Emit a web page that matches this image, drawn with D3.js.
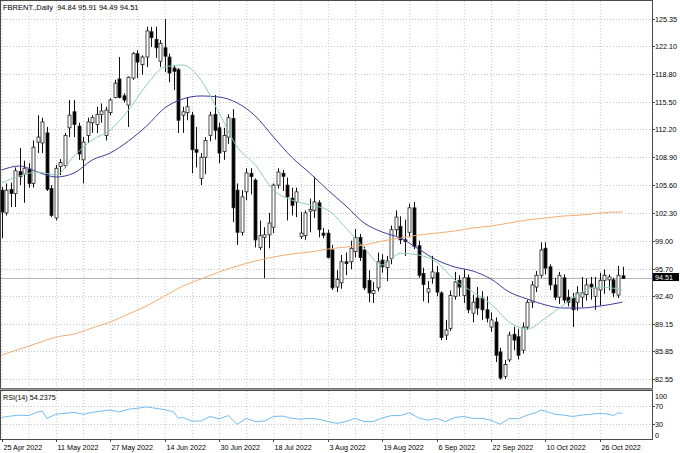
<!DOCTYPE html>
<html><head><meta charset="utf-8">
<script src="https://cdn.jsdelivr.net/npm/d3@7"></script>
<style>
html,body{margin:0;padding:0;background:#fff;}
svg{display:block;}
text{font-family:"Liberation Sans",Arial,sans-serif;fill:#000;}
</style>
</head><body><svg id="c" width="680" height="453"></svg>
<script>
// ---------------- DATA ----------------
const symbolTitle = "FBRENT.,Daily  94.84 95.91 94.49 94.51";
const rsiTitle = "RSI(14) 54.2375";
const lastPrice = 94.51;

const opens = [105.0,102.3,105.1,104.6,107.2,106.9,107.5,105.8,110.7,110.6,111.8,105.2,101.7,107.8,107.9,112.4,114.3,112.6,108.6,111.5,
113.0,112.8,114.0,111.5,114.2,116.0,118.2,116.2,115.1,118.3,121.2,119.9,120.8,123.8,122.9,120.3,121.9,120.8,119.5,119.3,
113.9,114.2,113.9,109.8,106.4,108.9,111.5,114.0,112.4,109.6,111.3,113.5,105.0,100.0,104.8,107.0,106.2,98.2,99.4,99.7,
100.6,105.6,107.0,105.6,104.05,103.6,99.5,99.6,102.5,102.6,103.5,99.9,99.9,97.9,93.5,94.0,96.5,96.5,97.7,99.4,
97.9,94.3,92.75,93.4,96.7,95.8,96.9,100.3,100.7,99.1,100.0,102.9,98.4,95.1,92.9,94.6,95.2,92.8,87.8,88.6,
92.4,94.3,92.5,94.6,90.4,92.2,92.2,90.8,88.75,89.35,85.8,82.9,84.85,87.9,87.6,86.0,88.75,91.7,93.5,94.9,
98.1,95.9,93.75,92.3,94.6,92.3,92.2,91.7,92.3,92.6,93.85,92.4,93.15,94.3,94.35,94.35,92.55,94.84];
const highs = [105.4,105.8,105.9,107.7,110.0,108.5,108.2,110.9,113.9,113.6,112.5,105.6,108.0,108.7,111.8,115.7,115.7,113.0,111.3,113.6,
113.9,114.9,115.3,114.9,115.9,118.1,120.8,116.5,118.5,121.4,121.6,121.0,124.4,124.4,124.4,122.8,125.3,121.2,119.8,119.5,
114.9,116.05,114.3,112.5,109.4,111.3,114.3,116.3,113.0,112.4,114.0,114.6,105.8,105.0,107.6,107.6,106.4,101.4,100.6,102.3,
105.8,107.6,107.4,106.5,105.3,105.3,102.4,102.6,104.0,106.6,103.8,100.5,100.3,98.5,95.5,97.3,97.6,99.0,100.4,99.8,
98.3,95.5,94.1,97.6,97.4,97.2,100.8,102.6,101.9,101.5,103.4,103.6,99.0,95.8,94.2,97.2,96.0,93.0,89.6,93.1,
95.3,94.9,95.6,95.0,92.6,93.5,93.0,92.4,90.5,89.9,86.3,84.85,88.2,88.8,88.5,89.3,92.0,94.2,95.4,98.8,
98.8,96.2,94.6,95.3,95.0,93.2,92.8,93.6,94.7,94.5,94.7,94.7,95.2,95.6,95.0,94.6,96.0,95.91];
const lows = [99.3,102.0,103.0,103.0,105.6,103.5,105.3,105.3,109.4,109.4,104.9,101.8,101.4,106.8,107.6,111.3,111.3,108.6,105.8,110.6,
111.8,111.8,113.0,110.9,113.9,115.9,115.9,115.4,112.5,118.1,118.3,118.7,119.6,122.0,120.7,119.6,119.0,117.8,116.9,111.8,
111.8,113.3,107.0,107.7,105.6,106.9,110.8,111.0,108.2,108.6,110.5,101.2,98.5,99.6,103.8,104.5,98.2,97.9,94.55,98.1,
99.9,105.2,104.9,101.4,102.0,101.8,99.2,99.1,100.0,101.7,99.4,99.3,96.9,93.15,92.9,93.3,94.9,95.6,97.0,96.6,
93.15,91.7,91.6,93.0,95.2,94.2,96.2,99.6,98.6,97.2,99.4,98.0,94.6,91.8,91.6,93.9,92.4,87.2,87.2,88.3,
92.0,92.4,91.6,90.4,89.3,90.2,89.6,89.3,88.2,84.6,82.5,82.6,84.6,86.0,84.9,85.6,88.4,91.0,92.9,94.6,
95.0,93.15,91.95,91.5,91.6,91.2,88.75,90.7,91.1,91.9,92.0,90.8,91.3,92.7,93.1,92.3,92.2,94.49];
const closes = [102.4,105.0,104.6,107.3,106.6,107.6,105.8,110.1,111.3,113.1,105.1,102.0,107.6,108.3,111.5,113.9,112.8,109.3,110.7,113.1,
113.6,114.0,114.4,114.5,115.7,117.7,116.0,115.7,118.4,121.2,120.2,120.8,123.9,123.1,121.9,122.4,120.9,118.9,119.1,113.3,
114.3,114.9,109.8,109.5,108.9,110.9,113.9,112.1,109.4,111.5,113.6,102.9,100.0,104.2,107.05,106.6,99.1,99.6,99.7,101.1,
105.6,107.15,106.65,104.2,103.2,104.8,99.9,102.3,102.7,103.6,100.3,99.65,97.0,93.4,94.4,96.5,96.3,98.1,99.4,97.0,
93.4,92.8,93.1,96.5,95.9,96.6,100.3,101.8,99.1,98.9,102.9,98.3,94.9,93.8,93.3,95.3,92.9,87.5,88.4,92.5,
94.1,93.5,94.6,90.8,91.7,91.0,90.8,89.8,89.6,85.4,82.7,84.3,87.8,87.2,85.4,88.75,91.7,93.75,94.9,97.9,
95.75,93.75,92.3,94.9,91.95,91.7,90.8,92.8,92.8,93.75,93.5,93.4,94.3,94.9,94.7,92.8,94.9,94.51];

// moving averages at these bar numbers
const maBars = [0,4,8,12,16,20,24,28,32,36,40,44,48,52,56,60,64,68,72,76,80,84,88,92,96,100,104,108,112,116,120,124,128,132,136,137];
const maFast = [105.85,106.68,107.15,106.8,109.05,110.95,112.14,114.5,117.48,119.62,119.85,118.07,114.16,110.12,107.98,105.01,103.83,103.24,102.64,100.5,
98.13,96.11,97.5,97.3,96.46,94.34,92.9,91.48,89.35,88.52,89.82,91.37,92.9,93.5,93.27,93.15];
const maMid = [107.39,107.87,107.15,106.56,107.03,108.58,109.41,110.83,112.61,114.75,115.82,116.18,116.06,115.35,113.8,111.31,108.93,107.03,105.01,103.12,
101.1,100.03,99.32,98.02,96.71,95.88,95.4,94.45,92.91,92.08,91.37,91.01,91.01,91.25,91.6,91.72];
const maSlow = [85.42,86.14,86.85,87.56,87.92,88.64,89.35,90.3,91.25,92.44,93.62,94.45,95.28,96.0,96.59,97.06,97.42,97.66,98.01,98.25,
98.49,98.96,99.32,99.67,99.91,100.15,100.5,100.74,101.1,101.46,101.69,101.93,102.05,102.29,102.41,102.41];

const rsiBars = [0,2,4,6,8,9,10,12,14,16,18,20,22,24,26,28,30,32,34,36,38,39,40,42,44,46,48,50,52,54,56,58,60,62,64,66,68,70,72,74,
76,78,80,82,84,86,88,90,92,94,96,98,100,102,104,106,108,110,112,114,116,118,119,120,122,124,126,128,130,132,134,135,136,137];
const rsiValues = [45,48,50,49,57,59,43,52,54,56,52,56,59,61,57,63,65,68,65,62,57,43,45,37,37,47,42,49,30,43,
36,37,47,48,43,41,43,41,36,32,36,43,36,36,44,49,49,55,44,39,43,36,45,47,43,43,39,30,43,42,
50,56,61,59,52,50,47,50,52,54,52,49,55,54.24];

const dateTickLabels = ["25 Apr 2022","11 May 2022","27 May 2022","14 Jun 2022","30 Jun 2022","18 Jul 2022",
"3 Aug 2022","19 Aug 2022","6 Sep 2022","22 Sep 2022","10 Oct 2022","26 Oct 2022"];
const priceTickLabels = ["125.35","122.10","118.80","115.50","112.20","108.90","105.60","102.30","99.00","95.70","92.40","89.15","85.85","82.55"];
const rsiTickLabels = ["100","70","30","0"];
const rsiLevels = [70,30];

// ---------------- LAYOUT ----------------
const svg = d3.select("#c");
const W = 680, H = 453;
const mainL = 1, mainR = 652, mainT = 1, mainB = 388;
const rsiT = 391, rsiB = 439;

const fmt = d3.timeFormat("%-d %b %Y");
const dates = d3.timeDay.range(new Date(2022,3,25), new Date(2022,10,3)).filter(d => d.getDay() % 6 !== 0).map(fmt);

const x = d3.scalePoint().domain(dates).range([1.5, 622.5]);
const y = d3.scaleLinear().domain([82.55, 125.35]).range([379.3, 18.7]);
const yr = d3.scaleLinear().domain([0, 100]).range([438, 392.3]);
const xi = i => x(dates[i]);

svg.append("rect").attr("width", W).attr("height", H).attr("fill", "#fff");

const defs = svg.append("defs");
defs.append("clipPath").attr("id","mainClip").append("rect").attr("x",mainL).attr("y",mainT).attr("width",mainR-mainL).attr("height",mainB-mainT);
defs.append("clipPath").attr("id","rsiClip").append("rect").attr("x",mainL).attr("y",rsiT).attr("width",mainR-mainL).attr("height",rsiB-rsiT);

const gridColor = "#c8c8c8";
const gridBars = d3.range(0, dates.length, 6);
const grid = svg.append("g");
gridBars.forEach(i => {
  [[mainT, mainB],[rsiT, rsiB]].forEach(([a,b]) => {
    grid.append("line").attr("x1", xi(i)+0.5).attr("x2", xi(i)+0.5).attr("y1", a).attr("y2", b)
      .attr("stroke", gridColor).attr("stroke-width", 1).attr("stroke-dasharray", "1,2");
  });
});
priceTickLabels.forEach(t => {
  const yy = Math.round(y(+t)) + 0.5;
  grid.append("line").attr("x1", mainL).attr("x2", mainR).attr("y1", yy).attr("y2", yy)
    .attr("stroke", gridColor).attr("stroke-dasharray", "1,2");
});
rsiLevels.forEach(v => {
  const yy = Math.round(yr(v)) + 0.5;
  grid.append("line").attr("x1", mainL).attr("x2", mainR).attr("y1", yy).attr("y2", yy)
    .attr("stroke", gridColor).attr("stroke-dasharray", "1,2");
});

// bid line
svg.append("line").attr("x1", mainL).attr("x2", mainR).attr("y1", Math.round(y(lastPrice))-0.5).attr("y2", Math.round(y(lastPrice))-0.5)
  .attr("stroke", "#b4b4b4").attr("stroke-width", 1);

// candles
const gC = svg.append("g").attr("clip-path", "url(#mainClip)");
const bars = d3.range(dates.length);
gC.selectAll("line.w").data(bars).join("line").attr("class","w")
  .attr("x1", i => Math.round(xi(i))+0.5).attr("x2", i => Math.round(xi(i))+0.5)
  .attr("y1", i => y(highs[i])).attr("y2", i => y(lows[i]))
  .attr("stroke", "#111").attr("stroke-width", 1);
gC.selectAll("rect.b").data(bars).join("rect").attr("class","b")
  .attr("x", i => Math.round(xi(i))-1)
  .attr("width", 3)
  .attr("y", i => y(Math.max(opens[i], closes[i])))
  .attr("height", i => Math.max(1, Math.abs(y(opens[i]) - y(closes[i]))))
  .attr("fill", i => closes[i] >= opens[i] ? "#fff" : "#000")
  .attr("stroke", "#222").attr("stroke-width", 0.8);

// moving averages
const maLine = vals => d3.line().x((d,k) => xi(maBars[k])).y(d => y(d)).curve(d3.curveMonotoneX)(vals);
gC.append("path").attr("d", maLine(maSlow)).attr("fill","none").attr("stroke","#f2ad74").attr("stroke-width",1);
gC.append("path").attr("d", maLine(maMid)).attr("fill","none").attr("stroke","#3c3c9c").attr("stroke-width",1);
gC.append("path").attr("d", maLine(maFast)).attr("fill","none").attr("stroke","#8ccfb2").attr("stroke-width",1);

// RSI
const gR = svg.append("g").attr("clip-path", "url(#rsiClip)");
gR.append("path").attr("d", d3.line().x((d,k) => xi(rsiBars[k])).y(d => yr(d))(rsiValues))
  .attr("fill","none").attr("stroke","#74bcec").attr("stroke-width",1);

// frames
const frameColor = "#4a4a4a";
svg.append("rect").attr("x", mainL-0.5).attr("y", mainT-0.5).attr("width", mainR-mainL+1).attr("height", mainB-mainT+1)
  .attr("fill","none").attr("stroke", frameColor);
svg.append("rect").attr("x", mainL-0.5).attr("y", rsiT-0.5).attr("width", mainR-mainL+1).attr("height", rsiB-rsiT+1)
  .attr("fill","none").attr("stroke", frameColor);
svg.append("rect").attr("x", 0).attr("y", mainB+0.5).attr("width", mainR+1).attr("height", rsiT-mainB-1.5).attr("fill","#9a9a9a");

// price axis
const fs = 7.2;
priceTickLabels.forEach(t => {
  const yy = Math.round(y(+t)) + 0.5;
  svg.append("line").attr("x1", mainR).attr("x2", mainR+3).attr("y1", yy).attr("y2", yy).attr("stroke", frameColor);
  svg.append("text").attr("x", mainR+3).attr("y", yy).attr("dy","0.35em").attr("font-size", fs).text(t);
});
const by = y(lastPrice) - 1.5;
svg.append("rect").attr("x", mainR+1).attr("y", by-4).attr("width", 26).attr("height", 8).attr("fill", "#000");
svg.append("text").attr("x", mainR+3).attr("y", by).attr("dy","0.35em").attr("font-size", fs).style("fill","#fff").text(lastPrice.toFixed(2));

// RSI axis
const rsiLabelY = [396, 406.5, 424.5, 435.5];
rsiTickLabels.forEach((t,k) => {
  svg.append("text").attr("x", mainR+3).attr("y", rsiLabelY[k]).attr("dy","0.35em").attr("font-size", fs).text(t);
});
rsiLevels.forEach(v => {
  const yy = Math.round(yr(v)) + 0.5;
  svg.append("line").attr("x1", mainR).attr("x2", mainR+3).attr("y1", yy).attr("y2", yy).attr("stroke", frameColor);
});

// date axis
dateTickLabels.forEach(lbl => {
  const xx = Math.round(x(lbl)) + 0.5;
  svg.append("line").attr("x1", xx).attr("x2", xx).attr("y1", rsiB).attr("y2", rsiB+3).attr("stroke", frameColor);
  svg.append("text").attr("x", xx+1).attr("y", 449.5).attr("font-size", fs).text(lbl);
});

// titles
svg.append("text").attr("x", 3).attr("y", 9.5).attr("font-size", 7.5).attr("xml:space","preserve").text(symbolTitle);
svg.append("text").attr("x", 3).attr("y", 400).attr("font-size", fs).text(rsiTitle);
</script>
</body></html>
